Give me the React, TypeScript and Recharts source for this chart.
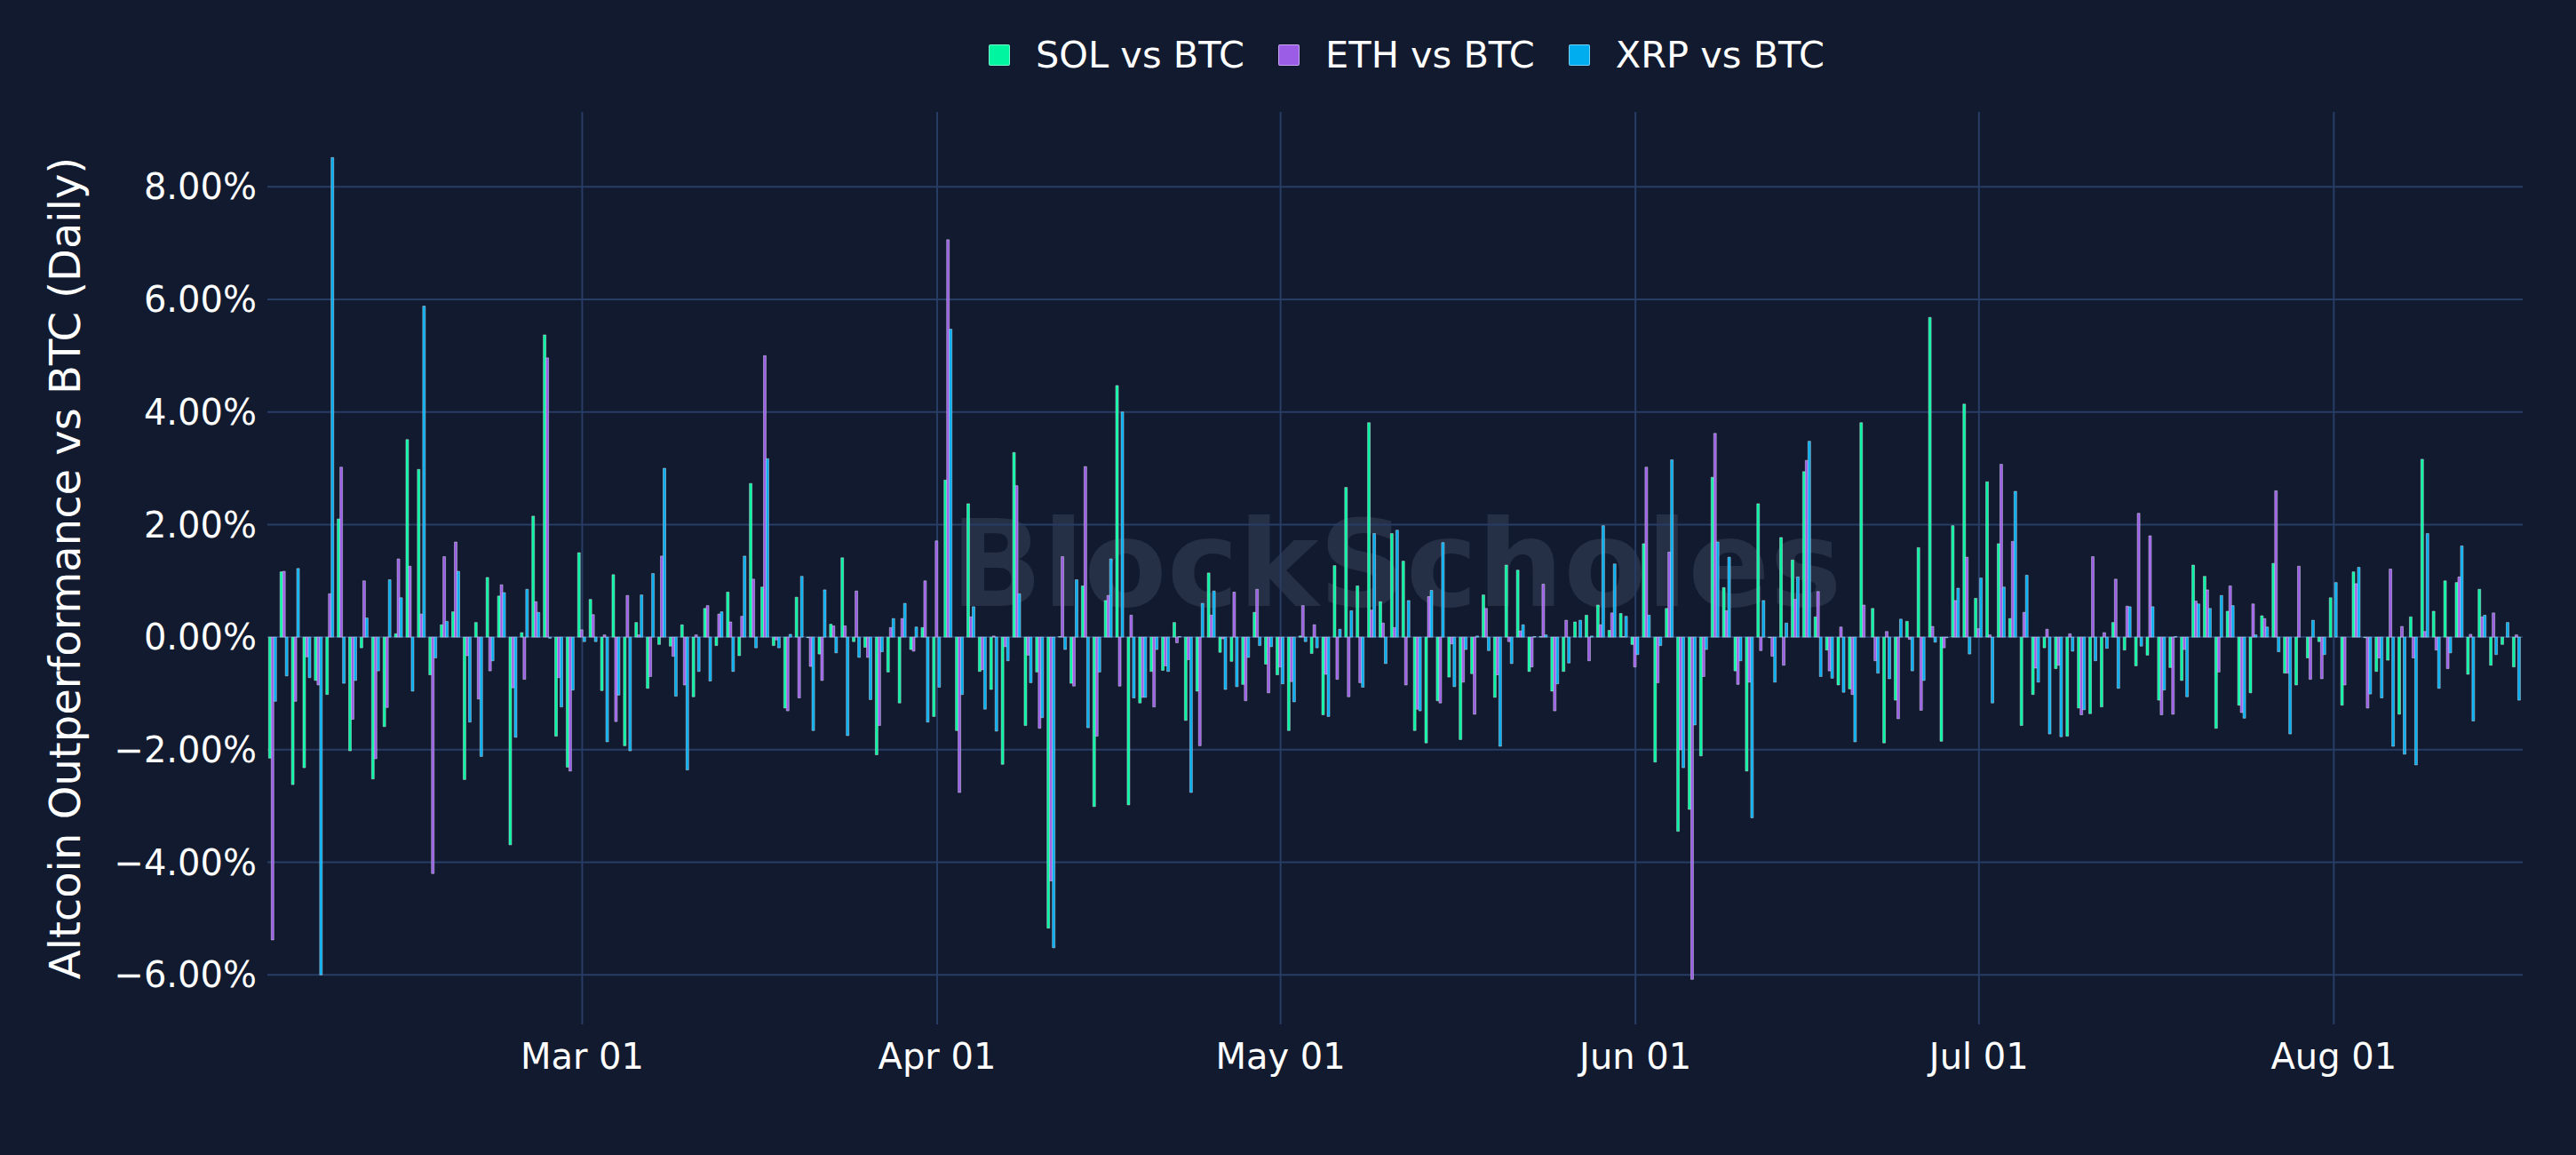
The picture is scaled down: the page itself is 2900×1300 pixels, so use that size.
import React from 'react';
import { BarChart, Bar, XAxis, YAxis, CartesianGrid } from 'recharts';

// daily outperformance vs BTC, in %, one value per day from 2025-02-02
const startDay = '2025-02-02';

const solVsBtc = [
  -2.15, 1.16, -2.62, -2.32, -0.77, -1.02, 2.1, -2.02, -0.19, -2.52, -1.59, 0.06, 3.51, 2.98, -0.67, 0.22, 0.45, -2.53, 0.26, 1.06,
  0.73, -3.69, 0.08, 2.15, 5.37, -1.76, -2.31, 1.5, 0.67, -0.95, 1.11, -1.93, 0.26, -0.91, -0.13, -0.16, 0.22, -1.06, 0.51, -0.15,
  0.8, -0.33, 2.73, 0.89, -0.15, -1.26, 0.71, -0.01, -0.3, 0.23, 1.41, -0.08, -0.18, -2.09, -0.62, -1.17, -0.22, 0.17, -1.41, 2.79,
  -1.66, 2.37, -0.61, -0.93, -2.26, 3.28, -1.57, -0.62, -5.17, 0.01, -0.82, 0.91, -3.01, 0.65, 4.47, -2.98, -1.17, -0.61, -0.59, 0.26,
  -1.48, -0.96, 1.14, -0.27, -0.43, -0.84, 0.44, -0.48, -0.67, -1.66, 0.02, -0.29, -1.38, 1.27, 2.66, 0.91, 3.81, 0.63, 1.84, 1.35,
  -1.66, -1.88, -1.13, -0.71, -1.82, -0.65, 0.75, -1.07, 1.28, 1.19, -0.61, 0.01, -0.96, -0.61, 0.27, 0.39, 0.57, 0.12, 0.42, -0.13,
  1.66, -2.22, 0.51, -3.45, -3.06, -2.11, 2.84, 0.88, -0.6, -2.38, 2.37, -0.01, 1.77, 1.37, 2.94, 0.36, -0.23, -0.85, -0.92, 3.81,
  0.51, -1.88, -1.12, 0.28, 1.59, 5.68, -1.85, 1.98, 4.14, 0.69, 2.76, 1.66, 0.33, -1.57, -1.02, -0.19, -0.56, -1.76, -1.26, -1.36,
  -1.24, 0.26, -0.23, -0.51, -0.32, -1.12, -0.54, -0.77, 1.28, 1.08, -1.62, 0.46, -1.21, -0.99, 0.38, 1.31, -0.64, -0.85, -0.37, -0.08,
  0.7, -1.21, 1.16, -0.01, -0.61, -0.41, -1.37, 0.36, 3.16, 0.46, 1.0, 0.97, -0.66, 0.85, -0.5, -0.13, -0.53,
];

const ethVsBtc = [
  -5.38, 1.17, -1.14, -0.35, -0.85, 0.77, 3.02, -1.46, 1.0, -2.16, -1.25, 1.39, 1.26, 0.41, -4.2, 1.43, 1.69, -0.33, -1.1, -0.6,
  0.93, -0.9, -0.75, 0.63, 4.96, -0.72, -2.38, 0.13, 0.4, 0.04, -1.5, 0.74, 0.04, -0.7, 1.44, -0.34, -0.85, 0.04, 0.56, 0.41,
  0.27, 0.37, 1.03, 5.0, -0.05, -1.31, -1.08, -0.52, -0.77, 0.2, 0.2, 0.82, -0.36, -1.57, 0.17, 0.33, -0.25, 1.0, 1.71, 7.06,
  -2.76, 0.36, -0.58, 0.02, -0.17, 2.69, -0.32, -1.62, -4.33, 1.43, -0.87, 3.03, -1.76, 0.74, -0.87, 0.39, -1.07, -1.24, -0.51, -0.1,
  -0.4, -1.93, 0.39, -0.03, 0.8, -1.13, 0.85, -0.99, -0.53, -0.79, 0.56, 0.22, -0.66, -0.75, -1.06, -0.81, 0.48, 0.25, 0.17, -0.85,
  -1.28, 0.72, -1.17, -0.12, -0.8, -1.37, 0.51, -0.67, -0.08, 0.11, -0.53, 0.94, -1.31, 0.3, 0.0, -0.42, 0.22, 0.43, 0.01, -0.53,
  3.02, -0.81, 1.51, -2.0, -6.08, -0.7, 3.62, 0.47, -0.84, -0.8, -0.24, -0.34, -0.5, 0.67, 3.14, 0.81, -0.6, 0.18, -1.02, 0.57,
  -0.42, 0.1, -1.45, -0.04, -1.3, 0.19, -0.19, 0.65, 1.42, 0.15, 0.04, 3.07, 1.7, 0.44, -0.55, 0.14, -0.5, 0.06, -1.38, 1.43,
  0.08, 1.03, 0.55, 2.2, 1.8, -1.38, -1.37, -0.22, 0.64, 0.84, -0.62, 0.91, -1.34, 0.59, 0.33, 2.6, -0.64, 1.26, -0.75, -0.74,
  0.0, -0.85, 0.95, -1.26, -0.37, 1.21, 0.19, -0.37, 0.1, -0.23, -0.56, 1.07, 0.05, 0.36, 0.43, 0.0, 0.04,
];

const xrpVsBtc = [
  -1.14, -0.69, 1.22, -0.72, -6.0, 8.52, -0.82, -0.77, 0.34, -0.6, 1.02, 0.7, -0.96, 5.88, -0.37, 0.28, 1.17, -1.51, -2.12, -0.42,
  0.79, -1.78, 0.85, 0.44, -0.02, -1.24, -0.94, -0.08, -0.08, -1.86, -1.03, -2.02, 0.75, 1.13, 3.0, -1.05, -2.36, -0.61, -0.78, 0.45,
  -0.61, 1.44, -0.19, 3.17, -0.19, 0.05, 1.08, -1.66, 0.84, -0.28, -1.75, -0.36, -1.11, -0.26, 0.33, 0.6, 0.18, -1.51, -0.89, 5.47,
  -1.02, 0.54, -1.28, -1.67, -0.42, 0.77, -0.81, -1.43, -5.52, -0.22, 1.02, -1.61, -0.62, 1.39, 4.0, -1.08, -1.07, -0.22, -0.61, 0.01,
  -2.76, 0.6, 0.82, -0.93, -0.88, -0.36, -0.15, -0.17, -0.83, -1.15, -0.08, -0.19, -1.41, 0.14, 0.47, -0.89, 1.84, -0.47, 1.9, 0.65,
  -1.31, 0.83, 1.68, -0.88, -0.22, 0.02, -0.24, -1.94, -0.47, 0.22, 0.01, 0.04, -0.83, -0.46, 0.3, 0.02, 1.98, 1.3, 0.37, -0.31,
  0.39, -0.15, 3.15, -2.32, -1.56, -0.22, 1.69, 1.42, -0.42, -3.21, 0.65, -0.8, 0.25, 1.07, 3.48, -0.7, -0.73, -0.98, -1.86, 0.0,
  -0.64, -0.74, 0.32, -0.6, -0.77, -0.09, -0.01, 0.87, -0.3, 1.05, -1.17, 0.89, 2.59, 1.1, -0.8, -1.72, -1.77, -0.25, -1.29, -0.42,
  -0.2, -0.91, 0.54, -0.16, 0.54, -0.94, 0.01, -1.06, 0.59, 0.51, 0.74, 0.56, -1.44, 0.04, 0.18, -0.26, -1.72, 0.0, 0.3, -0.31,
  0.97, 0.0, 1.24, -1.01, -1.08, -1.94, -2.08, -2.27, 1.84, -0.91, -0.28, 1.62, -1.49, 0.39, -0.31, 0.26, -1.12,
];

const monthTicks = ['2025-03-01', '2025-04-01', '2025-05-01', '2025-06-01', '2025-07-01', '2025-08-01'];
const monthNames = ['Jan', 'Feb', 'Mar', 'Apr', 'May', 'Jun', 'Jul', 'Aug', 'Sep', 'Oct', 'Nov', 'Dec'];
const yTicks = [-6, -4, -2, 0, 2, 4, 6, 8];

const series = [
  { key: 'sol', name: 'SOL vs BTC', color: '#00F5A0' },
  { key: 'eth', name: 'ETH vs BTC', color: '#9B5DE5' },
  { key: 'xrp', name: 'XRP vs BTC', color: '#00AEEF' },
];

const dayMs = 24 * 3600 * 1000;
const t0 = Date.parse(startDay + 'T00:00:00Z');
const data = solVsBtc.map((v, i) => ({
  date: new Date(t0 + i * dayMs).toISOString().slice(0, 10),
  sol: v,
  eth: ethVsBtc[i],
  xrp: xrpVsBtc[i],
}));

const font = '"DejaVu Sans", Verdana, sans-serif';
const bg = '#111a2e';
const grid = '#283d66';

const fmtDate = (d: string) => `${monthNames[Number(d.slice(5, 7)) - 1]} ${d.slice(8, 10)}`;
const fmtPct = (v: number) => (v < 0 ? '\u2212' : '') + Math.abs(v).toFixed(2) + '%';

export default function App() {
  return (
    <div style={{ position: 'relative', width: 2900, height: 1300, background: bg, fontFamily: font, overflow: 'hidden' }}>
      <style>{'body{margin:0;background:' + bg + '}'}</style>
      <div style={{ position: 'absolute', left: 1070, top: 567, fontSize: 136, fontWeight: 'bold', color: 'rgba(165,180,210,0.14)', lineHeight: '136px', whiteSpace: 'nowrap', pointerEvents: 'none' }}>
        BlockScholes
      </div>
      <div style={{ position: 'absolute', left: 1113, top: 42, height: 40, display: 'flex', alignItems: 'center', color: '#fff', fontSize: 41.5, lineHeight: '40px', whiteSpace: 'nowrap' }}>
        {series.map((s, i) => (
          <div key={s.key} style={{ display: 'flex', alignItems: 'center', marginLeft: i === 0 ? 0 : 38 }}>
            <span style={{ width: 22, height: 22, background: s.color, border: '1px solid rgba(255,255,255,0.45)', borderRadius: 2, marginRight: 29, display: 'inline-block' }} />
            <span>{s.name}</span>
          </div>
        ))}
      </div>
      <BarChart
        width={2900}
        height={1300}
        data={data}
        margin={{ top: 126, right: 60, bottom: 67, left: 0 }}
        barCategoryGap={1.3}
        barGap={0}
        style={{ position: 'absolute', left: 0, top: 0 }}
      >
        {/* syncWithTicks keeps the grid to the tick values, no frame round the plot */}
        <CartesianGrid stroke={grid} strokeWidth={2} syncWithTicks />
        <XAxis
          dataKey="date"
          ticks={monthTicks}
          interval={0}
          tickFormatter={fmtDate}
          axisLine={false}
          tickLine={false}
          tickSize={0}
          tickMargin={22}
          height={80}
          tick={{ fill: '#ffffff', fontSize: 40, fontFamily: font }}
        />
        <YAxis
          width={301}
          domain={[-6.88, 9.33]}
          ticks={yTicks}
          allowDataOverflow
          tickFormatter={fmtPct}
          axisLine={false}
          tickLine={false}
          tickSize={0}
          tickMargin={12}
          tick={{ fill: '#ffffff', fontSize: 40, fontFamily: font }}
          label={{
            value: 'Altcoin Outperformance vs BTC (Daily)',
            angle: -90,
            position: 'insideLeft',
            offset: 73,
            style: { textAnchor: 'middle', fill: '#ffffff', fontSize: 48, fontFamily: font },
          }}
        />
        {series.map(s => (
          <Bar
            key={s.key}
            dataKey={s.key}
            name={s.name}
            fill={s.color}
            stroke="rgba(230,236,248,0.55)"
            strokeWidth={0.8}
            isAnimationActive={false}
          />
        ))}
      </BarChart>
    </div>
  );
}
